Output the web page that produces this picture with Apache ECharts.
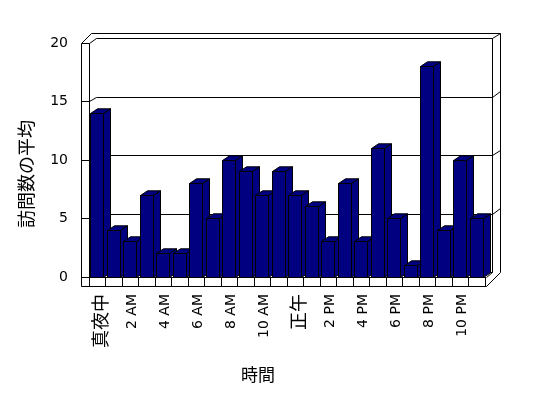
<!DOCTYPE html>
<html>
<head>
<meta charset="utf-8">
<script src="https://cdn.jsdelivr.net/npm/echarts@6/dist/echarts.min.js"></script>
<style>
html,body{margin:0;padding:0;background:#fff;}
#chart{width:548px;height:398px;}
</style>
</head>
<body>
<div id="chart"></div>
<script>
const hours = ['真夜中','1 AM','2 AM','3 AM','4 AM','5 AM','6 AM','7 AM','8 AM','9 AM','10 AM','11 AM',
               '正午','1 PM','2 PM','3 PM','4 PM','5 PM','6 PM','7 PM','8 PM','9 PM','10 PM','11 PM'];
const visits = [14, 4, 3, 7, 2, 2, 8, 5, 10, 9, 7, 9, 7, 6, 3, 8, 3, 11, 5, 1, 18, 4, 10, 5];
const yTicks = [0, 5, 10, 15, 20];
const yTitle = '訪問数の平均';
const xTitle = '時間';

const yMax = yTicks[yTicks.length - 1];
const h = v => Math.floor(v) + 0.5;
const BAR = '#000080';

function ln(x1, y1, x2, y2) {
  return { type: 'line', shape: { x1: h(x1), y1: h(y1), x2: h(x2), y2: h(y2) },
           style: { stroke: '#000', lineWidth: 1 } };
}

function frameItem(params, api) {
  const bw = api.size([1, 0])[0];
  const xs = api.coord([0, 0])[0] - bw / 2;
  const xe = api.coord([hours.length - 1, 0])[0] + bw / 2;
  const Y = v => api.coord([0, v])[1];
  const yb = Y(0), yt = Y(yMax);
  const L0 = xs - 8, L1 = xs;
  const R0 = xe + 1.5;
  const dy = -4.5;
  const BL = L1 + 7.5, BR = xe + 7;
  const ox = 8.5, oy = -5.5;
  const yf = yb + 9;
  const c = [];
  // outer slab
  c.push(ln(L0, yt, L0, yf));
  c.push(ln(L0, yf, R0, yf));
  c.push(ln(R0, yf, BR + ox, yb + dy + oy + 5));
  c.push(ln(BR + ox, yb + dy + oy + 5, BR + ox, yt + dy + oy));
  c.push(ln(BR + ox, yt + dy + oy, L0 + 10, yt + dy + oy));
  c.push(ln(L0 + 10, yt + dy + oy, L0, yt));
  // left wall front
  c.push(ln(L0, yt, L1, yt));
  c.push(ln(L1, yt, L1, yb));
  c.push(ln(L1, yt, BL, yt + dy));
  // back wall inner
  c.push(ln(BL, yt + dy, BR, yt + dy));
  c.push(ln(BR, yt + dy, BR, yb + dy));
  c.push(ln(BR, yt + dy, BR + ox, yt + dy + oy));
  // floor base
  c.push(ln(R0, yb, BR, yb + dy));
  // gridlines
  yTicks.forEach(v => {
    if (v === yMax) return;
    const y = Y(v);
    c.push(ln(L0, y, L1, y));
    c.push(ln(L1, y, BL, y + dy));
    c.push(ln(BL, y + dy, BR, y + dy));
    if (v > 0) c.push(ln(BR, y + dy, BR + ox, y + dy + oy));
  });
  return { type: 'group', children: c };
}

function barItem(params, api) {
  const i = api.value(0), v = api.value(1);
  const top = api.coord([i, v]);
  const base = api.coord([i, 0]);
  const half = 6.7, dx = 7, dy = -4.7;
  const x0 = h(top[0] - half), x1 = h(top[0] + half);
  const yt = h(top[1]), yb = h(base[1]);
  const st = { fill: BAR, stroke: '#000', lineWidth: 1 };
  return {
    type: 'group',
    children: [
      { type: 'polygon', shape: { points: [[x1, yb], [x1, yt], [x1 + dx, yt + dy], [x1 + dx, yb + dy]] }, style: st },
      { type: 'polygon', shape: { points: [[x0, yt], [x0 + dx, yt + dy], [x1 + dx, yt + dy], [x1, yt]] }, style: st },
      { type: 'rect', shape: { x: x0, y: yt, width: x1 - x0, height: yb - yt }, style: st }
    ]
  };
}

const chart = echarts.init(document.getElementById('chart'), null, { renderer: 'canvas' });
chart.setOption({
  backgroundColor: '#fff',
  animation: false,
  grid: { left: 89, top: 43, width: 396, height: 234, containLabel: false },
  xAxis: {
    type: 'category',
    data: hours,
    boundaryGap: true,
    name: xTitle,
    nameLocation: 'middle',
    nameGap: 89,
    nameTextStyle: { fontSize: 17, color: '#000', fontFamily: 'Noto Sans CJK JP', padding: [0, 58, 0, 0] },
    axisLine: { show: true, lineStyle: { color: '#000', width: 1 } },
    axisTick: { show: true, interval: 0, length: 9, lineStyle: { color: '#000' } },
    axisLabel: {
      interval: 1, rotate: 90, margin: 17, color: '#000',
      fontFamily: 'DejaVu Sans', fontSize: 14, padding: [5, 0, 0, 0],
      formatter: v => /[^\x00-\x7F]/.test(v) ? '{j|' + v + '}' : v,
      rich: { j: { fontSize: 18, fontFamily: 'Noto Sans CJK JP', color: '#000' } }
    },
    splitLine: { show: false }
  },
  yAxis: {
    type: 'value',
    min: 0, max: yMax, interval: 5,
    name: yTitle,
    nameLocation: 'middle',
    nameGap: 54,
    nameTextStyle: { fontSize: 18, color: '#000', fontFamily: 'Noto Sans CJK JP', padding: [0, 28, 0, 0] },
    axisLine: { show: false },
    axisTick: { show: false },
    splitLine: { show: false },
    axisLabel: { margin: 21, color: '#000', fontFamily: 'DejaVu Sans', fontSize: 14 }
  },
  series: [
    {
      type: 'custom', z: 1, silent: true, clip: false,
      renderItem: frameItem,
      data: [[0, 0]]
    },
    {
      type: 'custom', z: 2, clip: false,
      renderItem: barItem,
      encode: { x: 0, y: 1 },
      data: visits.map((v, i) => [i, v])
    }
  ]
});
</script>
</body>
</html>
